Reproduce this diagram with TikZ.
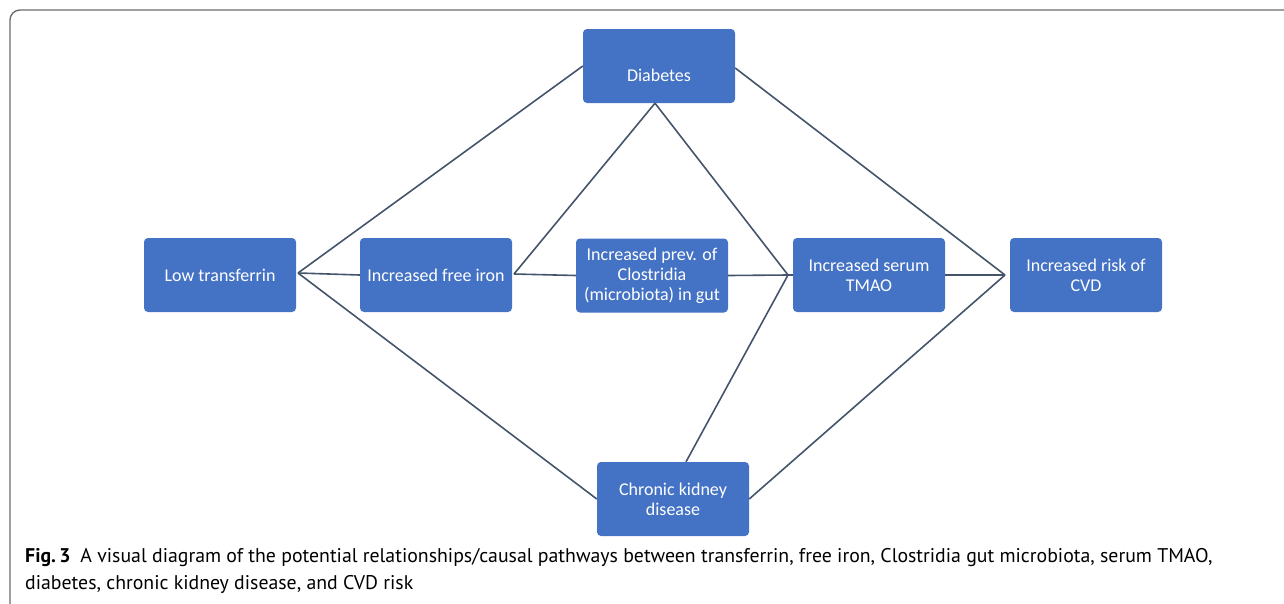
\documentclass[tikz,border=0pt]{standalone}
\usepackage{fontspec}
\setmainfont{Carlito}
\newfontfamily\capfont{PT Sans}
\usetikzlibrary{positioning}
\definecolor{boxblue}{HTML}{4472C4}
\definecolor{linkgray}{HTML}{44546A}

\begin{document}
\begin{tikzpicture}[
    x=1pt, y=-1pt,
    box/.style={rectangle, rounded corners=4pt, fill=boxblue, text=white, minimum width=152pt, minimum height=74pt, align=center, font=\fontsize{18}{20}\selectfont, inner sep=2pt},
    link/.style={draw=linkgray, line width=1.6pt}
]
    \useasboundingbox (0,0) rectangle (1284,603);
    \clip (0,0) rectangle (1284,603);
    % outer frame
    \draw[gray!85!black, line width=1.4pt, rounded corners=10pt] (10,10) rectangle (1320,630);

    \node[box, text height=31pt, text depth=0pt] (DB) at (659,66) {Diabetes};
    \node[box] (LT) at (220,275) {Low transferrin};
    \node[box] (FI) at (436,275) {Increased free iron};
    \node[box] (CL) at (652,275.5) {Increased prev. of\\Clostridia\\(microbiota) in gut};
    \node[box] (TM) at (869,275) {Increased serum\\TMAO};
    \node[box] (CV) at (1086,275) {Increased risk of\\CVD};
    \node[box] (CK) at (673,499) {Chronic kidney\\disease};

    % junctions
    \coordinate (J1) at (298,273);
    \coordinate (J2) at (514,274);
    \coordinate (J3) at (788,275);
    \coordinate (J4) at (1005,275);

    \draw[link] (DB.west) -- (J1);
    \draw[link] (FI.west) -- (J1);
    \draw[link] (CK.west) -- (J1);
    \draw[link] ([xshift=-4pt]DB.south) -- (J2);
    \draw[link] (CL.west) -- (J2);
    \draw[link] ([xshift=-4pt]DB.south) -- (J3);
    \draw[link] (CL.east) -- (J3);
    \draw[link] ([xshift=13pt]CK.north) -- (J3);
    \draw[link] (TM.west) -- (J3);
    \draw[link] ([yshift=-2pt]DB.east) -- (J4);
    \draw[link] (TM.east) -- (J4);
    \draw[link] (CK.east) -- (J4);

    \node[anchor=north west, align=left, inner sep=0pt, font=\capfont\fontsize{19.8}{27}\selectfont] (cap) at (25,548)
        {\textbf{Fig.\,3}\enspace A visual diagram of the potential relationships/causal pathways between transferrin, free iron, Clostridia gut microbiota, serum TMAO,\\diabetes, chronic kidney disease, and CVD risk};
\end{tikzpicture}
\end{document}
